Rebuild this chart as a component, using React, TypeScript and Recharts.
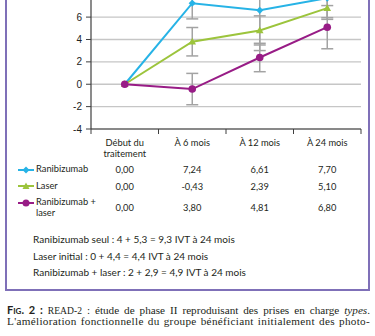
import React from 'react';
import { LineChart, Line, XAxis, YAxis, CartesianGrid, ErrorBar } from 'recharts';

const categories = ['Début du traitement', 'À 6 mois', 'À 12 mois', 'À 24 mois'];
const headerLines = [['Début du', 'traitement'], ['À 6 mois'], ['À 12 mois'], ['À 24 mois']];

const ranibizumab = [0, 7.24, 6.61, 7.7];
const laser = [0, -0.43, 2.39, 5.1];
const combined = [0, 3.8, 4.81, 6.8];

// error bars (half length)
const ranibizumabErr = [null, 1.4, 3.6, 1.9];
const laserErr = [null, 1.4, 1.27, 1.93];
const combinedErr = [null, 1.27, 1.3, 0.85];

// only the ticks that are visible in the cropped figure
const yTicks = [-4, -2, 0, 2, 4, 6];

const notes = [
  'Ranibizumab seul : 4 + 5,3 = 9,3 IVT à 24 mois',
  'Laser initial : 0 + 4,4 = 4,4 IVT à 24 mois',
  'Ranibizumab + laser : 2 + 2,9 = 4,9 IVT à 24 mois',
];

const BLUE = '#27b3e6';
const GREEN = '#9cc43c';
const PURPLE = '#981c86';
const ERR = '#a3a3a3';
const AXIS = '#3f3f3f';
const TEXT = '#231f20';

const PLOT_LEFT = 91;
const PLOT_RIGHT = 361;
const BAND = (PLOT_RIGHT - PLOT_LEFT) / categories.length;

const data = categories.map((name, i) => ({
  name,
  ranibizumab: ranibizumab[i],
  laser: laser[i],
  combined: combined[i],
  ranibizumabErr: ranibizumabErr[i],
  laserErr: laserErr[i],
  combinedErr: combinedErr[i],
}));

const fmt = (v: number) => v.toFixed(2).replace('.', ',');

const Diamond = (props: any) => {
  const { cx, cy } = props;
  if (cx == null || cy == null) return null;
  const s = 3.6;
  return <path d={`M${cx} ${cy - s}L${cx + s} ${cy}L${cx} ${cy + s}L${cx - s} ${cy}Z`} fill={BLUE} />;
};

const Triangle = (props: any) => {
  const { cx, cy } = props;
  if (cx == null || cy == null) return null;
  return <path d={`M${cx} ${cy - 4}L${cx + 3.8} ${cy + 2.8}L${cx - 3.8} ${cy + 2.8}Z`} fill={GREEN} />;
};

const Dot = (props: any) => {
  const { cx, cy } = props;
  if (cx == null || cy == null) return null;
  return <circle cx={cx} cy={cy} r={3.8} fill={PURPLE} />;
};

// Excel style: tick marks between the categories instead of under them
const BoundaryTick = (props: any) => {
  const { x, y, payload, index, visibleTicksCount } = props;
  const off = payload && payload.offset ? payload.offset : BAND / 2;
  return (
    <g>
      <line x1={x - off} x2={x - off} y1={y} y2={y + 5} stroke={AXIS} strokeWidth={1} />
      {index === visibleTicksCount - 1 && (
        <line x1={x + off} x2={x + off} y1={y} y2={y + 5} stroke={AXIS} strokeWidth={1} />
      )}
    </g>
  );
};

const LegendMark = ({ color, shape }: { color: string; shape: string }) => (
  <svg width={16} height={8} style={{ position: 'absolute', left: 18, top: -4 }}>
    <line x1={0} x2={16} y1={4} y2={4} stroke={color} strokeWidth={2} />
    {shape === 'diamond' && <path d="M8 0.5L11.5 4L8 7.5L4.5 4Z" fill={color} />}
    {shape === 'triangle' && <path d="M8 0.5L11.5 7L4.5 7Z" fill={color} />}
    {shape === 'circle' && <circle cx={8} cy={4} r={3.5} fill={color} />}
  </svg>
);

const rows = [
  { label: ['Ranibizumab'], color: BLUE, shape: 'diamond', values: ranibizumab, y: 169.5 },
  { label: ['Laser'], color: GREEN, shape: 'triangle', values: laser, y: 186 },
  { label: ['Ranibizumab +', 'laser'], color: PURPLE, shape: 'circle', values: combined, y: 202.7 },
];

const colCenter = (i: number) => PLOT_LEFT + (i + 0.5) * BAND;

export default function App() {
  return (
    <div
      style={{
        position: 'absolute',
        left: 0,
        top: 0,
        width: 375,
        height: 336,
        overflow: 'hidden',
        background: '#fff',
        fontFamily: 'Lato, sans-serif',
        color: TEXT,
      }}
    >
      <div
        style={{
          position: 'absolute',
          left: 5,
          top: -20,
          width: 365,
          height: 311,
          boxSizing: 'border-box',
          border: '2px solid #7f70b8',
        }}
      />

      <div style={{ position: 'absolute', left: 0, top: -40 }}>
        <LineChart width={375} height={179} data={data} margin={{ top: 10, right: 14, left: 0, bottom: 0 }}>
          <CartesianGrid vertical={false} stroke="#c6c6c6" strokeWidth={1.3} />
          <XAxis
            dataKey="name"
            scale="band"
            height={10}
            tickLine={false}
            tickSize={0}
            tickMargin={0}
            axisLine={{ stroke: AXIS, strokeWidth: 1.2 }}
            tick={<BoundaryTick />}
            interval={0}
          />
          <YAxis
            width={91}
            domain={[-4, 10]}
            ticks={yTicks}
            interval={0}
            tickSize={5}
            tickMargin={4}
            axisLine={{ stroke: AXIS, strokeWidth: 1.2 }}
            tickLine={{ stroke: AXIS }}
            tick={{ fill: '#222', fontSize: 10, fontFamily: 'Liberation Sans, Arial, sans-serif' }}
          />
          <Line
            dataKey="ranibizumab"
            stroke={BLUE}
            strokeWidth={2}
            dot={<Diamond />}
            isAnimationActive={false}
          >
            <ErrorBar dataKey="ranibizumabErr" direction="y" width={6} stroke={ERR} strokeWidth={1.5} />
          </Line>
          <Line
            dataKey="combined"
            stroke={GREEN}
            strokeWidth={2}
            dot={<Triangle />}
            isAnimationActive={false}
          >
            <ErrorBar dataKey="combinedErr" direction="y" width={6} stroke={ERR} strokeWidth={1.5} />
          </Line>
          <Line
            dataKey="laser"
            stroke={PURPLE}
            strokeWidth={2}
            dot={<Dot />}
            isAnimationActive={false}
          >
            <ErrorBar dataKey="laserErr" direction="y" width={6} stroke={ERR} strokeWidth={1.5} />
          </Line>
        </LineChart>
      </div>

      {/* table under the axis */}
      {headerLines.map((lines, i) => (
        <div
          key={`h${i}`}
          style={{
            position: 'absolute',
            left: colCenter(i) - 40,
            width: 80,
            top: 136.5,
            textAlign: 'center',
            fontSize: 9.3,
            lineHeight: '11px',
          }}
        >
          {lines.map((l) => (
            <div key={l}>{l}</div>
          ))}
        </div>
      ))}

      {rows.map((r) => (
        <React.Fragment key={r.label[0] + r.y}>
          <div style={{ position: 'absolute', left: 0, top: r.y }}>
            <LegendMark color={r.color} shape={r.shape} />
          </div>
          <div
            style={{
              position: 'absolute',
              left: 36,
              top: r.y - 5.5,
              fontSize: 9.3,
              lineHeight: '10.5px',
              whiteSpace: 'nowrap',
            }}
          >
            {r.label.map((l) => (
              <div key={l}>{l}</div>
            ))}
          </div>
          {r.values.map((v, i) => (
            <div
              key={`v${i}`}
              style={{
                position: 'absolute',
                left: colCenter(i) - 40,
                width: 80,
                top: (r.label.length > 1 ? r.y + 4.6 : r.y) - 5.5,
                textAlign: 'center',
                fontSize: 9.3,
                lineHeight: '11px',
              }}
            >
              {fmt(v)}
            </div>
          ))}
        </React.Fragment>
      ))}

      {notes.map((n, i) => (
        <div
          key={n}
          style={{
            position: 'absolute',
            left: 33,
            top: 231 + i * 16.7,
            fontSize: 10,
            lineHeight: '16px',
            whiteSpace: 'nowrap',
          }}
        >
          {n}
        </div>
      ))}

      <div
        style={{
          position: 'absolute',
          left: 7,
          width: 363,
          top: 304,
          fontFamily: 'Liberation Serif, serif',
          fontSize: 11.2,
          lineHeight: '11px',
        }}
      >
        <div style={{ textAlign: 'justify', textAlignLast: 'justify', whiteSpace: 'nowrap' }}>
          <span style={{ fontFamily: 'Lato, sans-serif', fontWeight: 700, fontVariant: 'small-caps', fontSize: 11 }}>
            Fig. 2 :
          </span>{' '}
          <span style={{ fontSize: 9.6 }}>READ-2</span> : étude de phase II reproduisant des prises en charge{' '}
          <i>types</i>.
        </div>
        <div style={{ textAlign: 'justify', textAlignLast: 'justify', letterSpacing: 0.3, whiteSpace: 'nowrap' }}>
          L'amélioration fonctionnelle du groupe bénéficiant initialement des photo-
        </div>
      </div>
    </div>
  );
}
